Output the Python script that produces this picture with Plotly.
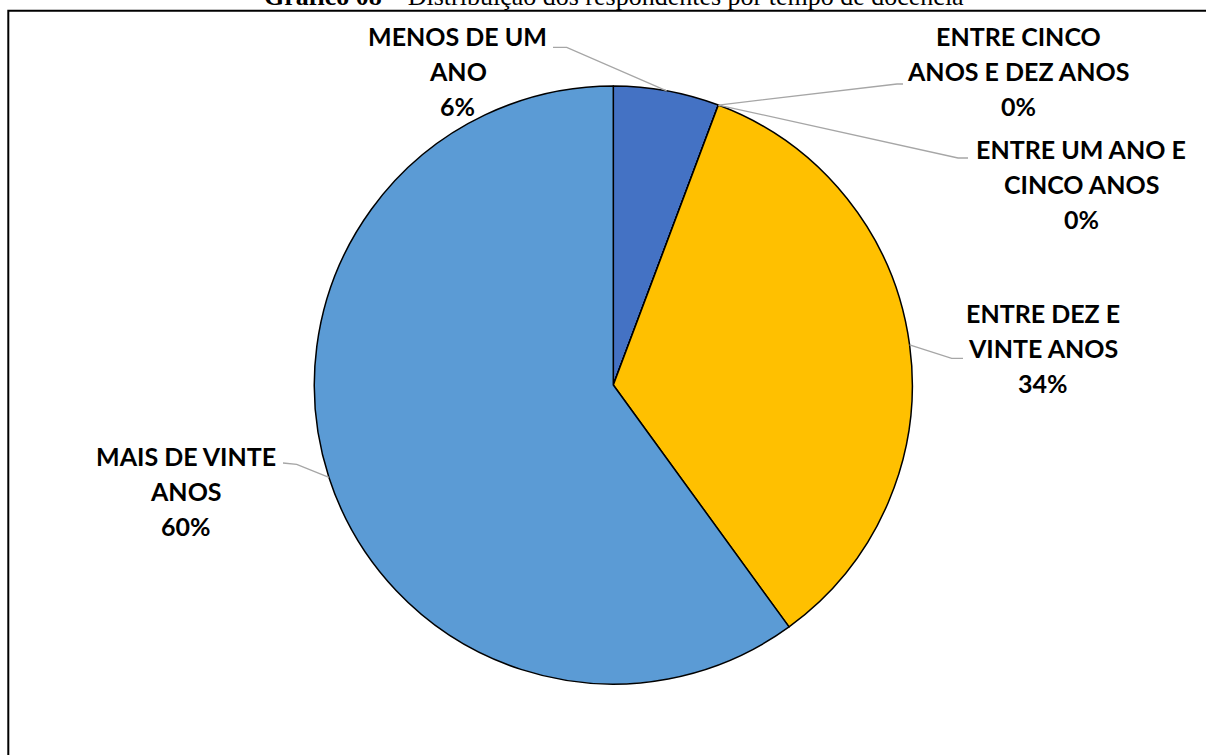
import math
import plotly.graph_objects as go

# ---- data ----
categories = [
    "MENOS DE UM ANO",
    "ENTRE UM ANO E CINCO ANOS",
    "ENTRE CINCO ANOS E DEZ ANOS",
    "ENTRE DEZ E VINTE ANOS",
    "MAIS DE VINTE ANOS",
]
respondents = [2, 0, 0, 12, 21]
label_lines = [
    ["MENOS DE UM", "ANO"],
    ["ENTRE UM ANO E", "CINCO ANOS"],
    ["ENTRE CINCO", "ANOS E DEZ ANOS"],
    ["ENTRE DEZ E", "VINTE ANOS"],
    ["MAIS DE VINTE", "ANOS"],
]
colors = ["#4472C4", "#ED7D31", "#A5A5A5", "#FFC000", "#5B9BD5"]
title_bold = "Gráfico 08"
title_rest = " – Distribuição dos respondentes por tempo de docência"

# ---- layout constants (pixels) ----
W, H = 1206, 755
CX, CY, R = 613.3, 385, 299
LINE_H = 35
# text block centre (x, first-line y) and leader elbow (x, y) / end (x, y)
label_layout = [
    dict(tx=457.5, ty=36.3, elbow=(566.7, 47.3), end=(553, 47.3)),
    dict(tx=1081, ty=150, elbow=(958, 158), end=(968, 158)),
    dict(tx=1018, ty=36.7, elbow=(897, 84), end=(903, 84)),
    dict(tx=1043, ty=314, elbow=(951.7, 358.3), end=(963, 358.3)),
    dict(tx=186, ty=456.5, elbow=(296.7, 464.3), end=(283, 463)),
]


def px(x):
    return x / W


def py(y):
    return 1 - y / H


fig = go.Figure(
    go.Pie(
        labels=categories,
        values=respondents,
        sort=False,
        direction="clockwise",
        rotation=0,
        marker=dict(colors=colors, line=dict(color="black", width=1.5)),
        textinfo="none",
        hoverinfo="label+percent",
        showlegend=False,
        domain=dict(x=[px(CX - R), px(CX + R)], y=[py(CY + R), py(CY - R)]),
    )
)

total = sum(respondents)
shapes = []
annotations = []
cum = 0
for lines, v, lay in zip(label_lines, respondents, label_layout):
    mid = (cum + v / 2) / total * 2 * math.pi
    cum += v
    ex = CX + R * math.sin(mid)
    ey = CY - R * math.cos(mid)
    ebx, eby = lay["elbow"]
    enx, eny = lay["end"]
    shapes.append(dict(
        type="path", xref="paper", yref="paper",
        path=f"M {px(ex)},{py(ey)} L {px(ebx)},{py(eby)} L {px(enx)},{py(eny)}",
        line=dict(color="#A6A6A6", width=1.3),
    ))
    pct = f"{round(v / total * 100)}%"
    for i, t in enumerate(lines + [pct]):
        annotations.append(dict(
            x=px(lay["tx"]), y=py(lay["ty"] + i * LINE_H - 0.7),
            xref="paper", yref="paper", xanchor="center", yanchor="middle",
            text=f"<b>{t}</b>", showarrow=False,
            font=dict(family="Lato", size=25, color="black"),
        ))

# title (partly cut by the top edge, as in the source)
annotations.append(dict(
    x=px(613.5), y=py(12.6), xref="paper", yref="paper",
    xanchor="center", yanchor="bottom", showarrow=False,
    text=f"<b>{title_bold}</b>{title_rest}",
    font=dict(family="Liberation Serif", size=26, color="black"),
))

# outer frame
shapes.append(dict(
    type="rect", xref="paper", yref="paper",
    x0=px(8.3), x1=px(1220), y0=py(10.7), y1=py(770),
    line=dict(color="black", width=2), fillcolor="rgba(0,0,0,0)",
))

fig.update_layout(
    width=W, height=H,
    margin=dict(l=0, r=0, t=0, b=0),
    paper_bgcolor="white", plot_bgcolor="white",
    shapes=shapes, annotations=annotations,
)

fig.write_html(
    "out.html",
    config={"displayModeBar": False},
    post_script="document.body.style.margin='0px';document.body.style.overflow='hidden';",
)
